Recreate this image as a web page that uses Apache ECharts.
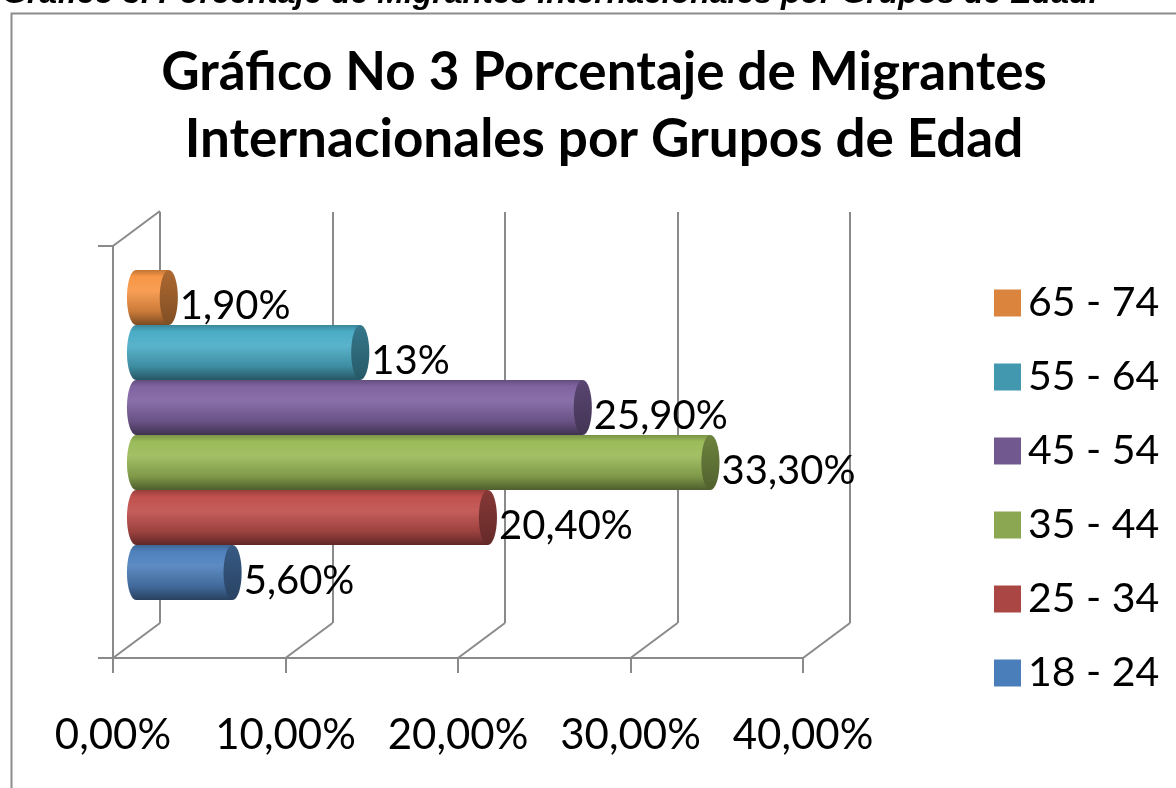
<!DOCTYPE html>
<html>
<head>
<meta charset="utf-8">
<script src="https://cdn.jsdelivr.net/npm/echarts@6/dist/echarts.min.js"></script>
<style>
  html, body { margin: 0; padding: 0; background: #fff; }
  #chart { width: 1176px; height: 788px; }
</style>
</head>
<body>
<div id="chart"></div>
<script>
// ---- data ----
const categories = ["18 - 24", "25 - 34", "35 - 44", "45 - 54", "55 - 64", "65 - 74"];
const values = [5.6, 20.4, 33.3, 25.9, 13, 1.9];
const valueLabels = ["5,60%", "20,40%", "33,30%", "25,90%", "13%", "1,90%"];
const tickValues = [0, 10, 20, 30, 40];
const tickLabels = ["0,00%", "10,00%", "20,00%", "30,00%", "40,00%"];

// Office 2007 palette: bar base colour and legend swatch colour
const baseColors = ["#4F81BD", "#C0504D", "#9BBB59", "#8064A2", "#4BACC6", "#F79646"];
const legendColors = ["#4A7EBB", "#AA4643", "#8CA752", "#71588F", "#4198AF", "#DB843D"];

const FONT = "Lato, 'Open Sans', sans-serif";
const FRAME = "#8a8a8a";
const DEPTH = [47, -35]; // front -> back wall offset of the 3D box

/* ---------- colour helpers ---------- */
function hexToRgb(h) {
  const n = parseInt(h.slice(1), 16);
  return [(n >> 16) & 255, (n >> 8) & 255, n & 255];
}
function mix(hex, target, t) {
  const c = hexToRgb(hex);
  const r = c.map((v) => Math.round(v + (target - v) * t));
  return `rgb(${r[0]},${r[1]},${r[2]})`;
}
const dark = (hex, t) => mix(hex, 0, t);
const light = (hex, t) => mix(hex, 255, t);

function bodyGradient(base) {
  return new echarts.graphic.LinearGradient(0, 0, 0, 1, [
    { offset: 0, color: dark(base, 0.22) },
    { offset: 0.12, color: base },
    { offset: 0.38, color: light(base, 0.08) },
    { offset: 0.75, color: dark(base, 0.18) },
    { offset: 1, color: dark(base, 0.5) },
  ]);
}
function capGradient(base) {
  return new echarts.graphic.LinearGradient(0, 0, 0, 1, [
    { offset: 0, color: dark(base, 0.3) },
    { offset: 1, color: dark(base, 0.48) },
  ]);
}

/* ---------- cylinder renderer ---------- */
function makeCylinder(k) {
  const base = baseColors[k];
  return function (params, api) {
    const idx = api.value(1);
    const val = api.value(0);
    const p0 = api.coord([0, idx]);
    const p1 = api.coord([val, idx]);
    const h = api.size([0, 1])[1];
    const ry = h / 2;
    const rx = h * 0.165;
    const ell = (cx, fill) => ({
      type: "circle",
      x: cx,
      y: p0[1],
      scaleX: rx / ry,
      shape: { cx: 0, cy: 0, r: ry },
      style: { fill: fill },
    });
    return {
      type: "group",
      children: [
        ell(p0[0], bodyGradient(base)),
        {
          type: "rect",
          shape: { x: p0[0], y: p0[1] - ry, width: p1[0] - p0[0], height: h },
          style: { fill: bodyGradient(base) },
        },
        ell(p1[0], capGradient(base)),
        {
          type: "text",
          x: p1[0] + rx + 2,
          y: p0[1] + 9,
          style: {
            text: valueLabels[idx],
            fill: "#000",
            font: `40px ${FONT}`,
            textAlign: "left",
            textVerticalAlign: "middle",
          },
        },
      ],
    };
  };
}

/* ---------- 3D box diagonals (front axis -> back wall) ---------- */
function renderDiagonal(params, api) {
  const p = api.coord([api.value(0), api.value(1)]);
  return {
    type: "line",
    shape: { x1: p[0], y1: p[1], x2: p[0] + DEPTH[0], y2: p[1] + DEPTH[1] },
    style: { stroke: FRAME, lineWidth: 2 },
  };
}

const chart = echarts.init(document.getElementById("chart"));

const cylinderSeries = categories.map((name, k) => ({
  name: name,
  type: "custom",
  xAxisIndex: 0,
  yAxisIndex: 0,
  clip: false,
  z: 5,
  itemStyle: { color: legendColors[k] },
  renderItem: makeCylinder(k),
  encode: { x: 0, y: 1 },
  data: [[values[k], k]],
}));

chart.setOption({
  animation: false,
  backgroundColor: "#fff",
  title: {
    text: "Gráfico No 3 Porcentaje de Migrantes\nInternacionales por Grupos de Edad",
    left: 599,
    top: 34,
    textAlign: "center",
    textStyle: {
      fontFamily: FONT,
      fontWeight: "bold",
      fontSize: 53,
      lineHeight: 67,
      color: "#000",
    },
  },
  legend: {
    orient: "vertical",
    left: 989,
    top: 274,
    icon: "rect",
    itemWidth: 27,
    itemHeight: 27,
    itemGap: 26,
    data: categories.slice().reverse(),
    textStyle: { fontFamily: FONT, fontSize: 41, lineHeight: 48, color: "#000", padding: [0, 0, 0, 2] },
  },
  graphic: [
    {
      type: "rect",
      left: 9,
      top: 11,
      shape: { width: 1300, height: 900 },
      style: { fill: "none", stroke: "#8c8c8c", lineWidth: 2 },
      silent: true,
      z: -1,
    },
    {
      type: "text",
      left: 2,
      top: -22,
      style: {
        text: "Gráfico 3. Porcentaje de Migrantes Internacionales por Grupos de Edad.",
        font: "italic bold 32px 'Liberation Sans', Arial, sans-serif",
        fill: "#000",
      },
    },
  ],
  grid: [
    // bars (middle depth)
    { left: 136, width: 690, top: 270, height: 330 },
    // front floor / left wall
    { left: 113, width: 690, top: 246, bottom: 130 },
    // back wall
    { left: 160, width: 690, top: 212, bottom: 165 },
  ],
  xAxis: [
    { gridIndex: 0, type: "value", min: 0, max: 40, show: false },
    {
      gridIndex: 1,
      type: "value",
      min: 0,
      max: 40,
      interval: 10,
      axisLine: { show: true, lineStyle: { color: FRAME, width: 2 } },
      axisTick: { show: true, length: 15, lineStyle: { color: FRAME, width: 2 } },
      splitLine: { show: false },
      axisLabel: {
        margin: 56,
        fontFamily: FONT,
        fontSize: 42,
        color: "#000",
        formatter: (v) => tickLabels[tickValues.indexOf(v)],
      },
    },
    {
      gridIndex: 2,
      type: "value",
      min: 0,
      max: 40,
      interval: 10,
      axisLine: { show: false },
      axisTick: { show: false },
      axisLabel: { show: false },
      splitLine: { show: true, lineStyle: { color: FRAME, width: 2 } },
    },
  ],
  yAxis: [
    { gridIndex: 0, type: "category", data: categories, show: false },
    {
      gridIndex: 1,
      type: "value",
      min: 0,
      max: 1,
      interval: 1,
      axisLine: { show: true, lineStyle: { color: FRAME, width: 2 } },
      axisTick: { show: true, length: 15, lineStyle: { color: FRAME, width: 2 } },
      axisLabel: { show: false },
      splitLine: { show: false },
    },
    { gridIndex: 2, type: "value", min: 0, max: 1, show: false },
  ],
  series: [
    {
      type: "custom",
      name: "frame",
      xAxisIndex: 1,
      yAxisIndex: 1,
      silent: true,
      clip: false,
      z: 1,
      renderItem: renderDiagonal,
      encode: { x: 0, y: 1 },
      data: tickValues.map((v) => [v, 0]).concat([[0, 1]]),
    },
    ...cylinderSeries,
  ],
});
</script>
</body>
</html>
